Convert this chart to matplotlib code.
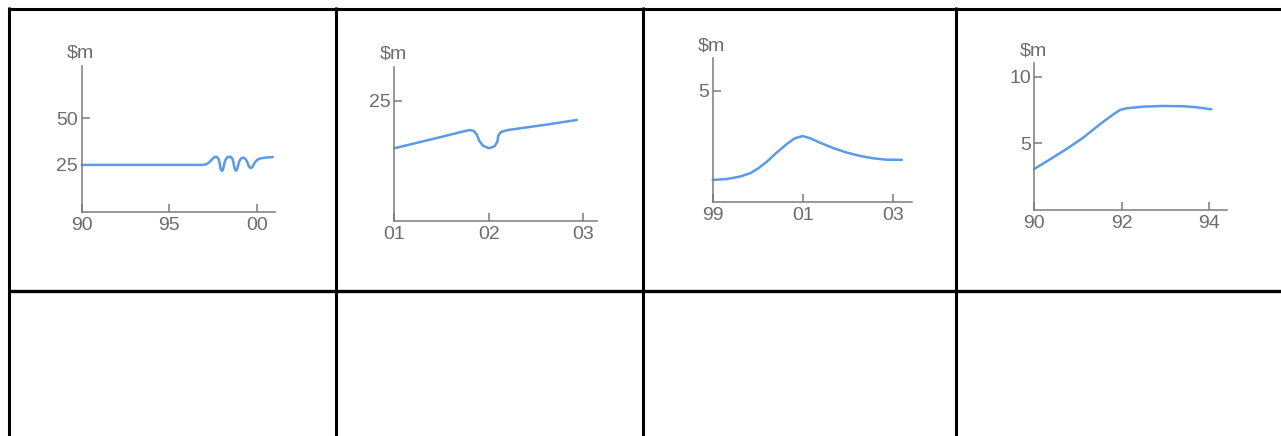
import matplotlib
matplotlib.use("Agg")
import matplotlib.pyplot as plt
from matplotlib.lines import Line2D

# ---------------- data ----------------
c1_years = [1990.0, 1993.0, 1996.9, 1997.1, 1997.25, 1997.4, 1997.52, 1997.62, 1997.72,
            1997.8, 1997.86, 1997.9, 1997.94, 1998.0, 1998.06, 1998.1, 1998.15, 1998.22,
            1998.32, 1998.42, 1998.52, 1998.6, 1998.66, 1998.7, 1998.75, 1998.81, 1998.87,
            1998.92, 1998.98, 1999.06, 1999.16, 1999.25, 1999.34, 1999.42, 1999.5, 1999.57,
            1999.65, 1999.73, 1999.82, 1999.92, 2000.05, 2000.2, 2000.5, 2000.9]
c1_values = [25.0, 25.0, 25.0, 25.3, 26.2, 27.6, 28.8, 29.3, 29.2,
             28.3, 26.5, 24.3, 22.6, 21.8, 22.4, 24.0, 26.2, 28.0,
             29.1, 29.4, 29.2, 28.2, 26.3, 24.2, 22.5, 21.9, 22.6,
             24.5, 26.6, 28.1, 28.8, 28.8, 28.2, 27.0, 25.2, 23.8,
             23.3, 23.8, 25.3, 26.8, 27.9, 28.5, 28.9, 29.2]
c1_xticks = [1990, 1995, 2000]
c1_xlabels = ["90", "95", "00"]
c1_yticks = [25, 50]
c1_xlim = (1990, 2001.03)
c1_ylim = (0, 78)

c2_years = [2001.0, 2001.4, 2001.75, 2001.8, 2001.84, 2001.87, 2001.9, 2001.94, 2002.0,
            2002.06, 2002.09, 2002.1, 2002.13, 2002.2, 2002.6, 2002.93]
c2_values = [15.1, 17.0, 18.7, 18.9, 18.7, 18.0, 16.6, 15.6, 15.1,
             15.5, 16.5, 17.8, 18.5, 18.9, 20.0, 21.0]
c2_xticks = [2001, 2002, 2003]
c2_xlabels = ["01", "02", "03"]
c2_yticks = [25]
c2_xlim = (2001, 2003.14)
c2_ylim = (0, 32.1)

c3_years = [1999.0, 1999.31, 1999.6, 1999.83, 2000.01, 2000.2, 2000.42, 2000.64, 2000.82,
            2000.99, 2001.16, 2001.38, 2001.67, 2001.97, 2002.26, 2002.56, 2002.85, 2003.19]
c3_values = [0.99, 1.03, 1.14, 1.29, 1.51, 1.81, 2.22, 2.60, 2.86,
             2.96, 2.86, 2.66, 2.42, 2.22, 2.07, 1.96, 1.90, 1.89]
c3_xticks = [1999, 2001, 2003]
c3_xlabels = ["99", "01", "03"]
c3_yticks = [5]
c3_xlim = (1999, 2003.41)
c3_ylim = (0, 6.45)

c4_years = [1990.0, 1990.36, 1990.74, 1991.12, 1991.5, 1991.81, 1991.96, 1992.11,
            1992.5, 1992.95, 1993.41, 1993.72, 1994.05]
c4_values = [3.08, 3.80, 4.58, 5.43, 6.43, 7.18, 7.50, 7.63,
             7.75, 7.80, 7.78, 7.70, 7.55]
c4_xticks = [1990, 1992, 1994]
c4_xlabels = ["90", "92", "94"]
c4_yticks = [5, 10]
c4_xlim = (1990, 1994.40)
c4_ylim = (0, 11.0)

unit_label = "$m"

# ---------------- style ----------------
W, H = 1281, 436
LINE_BLUE = "#5a9be8"
AXIS_GRAY = "#7a7a7a"
TEXT_GRAY = "#6c6c6c"
FS = 14
plt.rcParams["font.family"] = ["Liberation Sans", "DejaVu Sans"]

fig = plt.figure(figsize=(W / 100, H / 100), dpi=100)
fig.patch.set_facecolor("white")


def px_rect(left, top, right, bottom):
    return [left / W, 1 - bottom / H, (right - left) / W, (bottom - top) / H]


# table grid
def hline(y, x0, x1, lw=2.2):
    fig.add_artist(Line2D([x0 / W, x1 / W], [1 - y / H, 1 - y / H],
                          transform=fig.transFigure, color="black", lw=lw,
                          solid_capstyle="butt"))


def vline(x, y0, y1, lw=2.2):
    fig.add_artist(Line2D([x / W, x / W], [1 - y0 / H, 1 - y1 / H],
                          transform=fig.transFigure, color="black", lw=lw,
                          solid_capstyle="butt"))


hline(8.7, 7.5, W)
hline(291, 7.5, W, lw=2.4)
for xv in [8.7, 336, 643, 955.8]:
    vline(xv, 7.5, H)

panels = [
    (px_rect(81.7, 65.7, 275, 211.7), c1_years, c1_values, c1_xticks, c1_xlabels, c1_yticks, c1_xlim, c1_ylim),
    (px_rect(394.3, 66.7, 596.7, 220.7), c2_years, c2_values, c2_xticks, c2_xlabels, c2_yticks, c2_xlim, c2_ylim),
    (px_rect(712.7, 58.3, 911.7, 202), c3_years, c3_values, c3_xticks, c3_xlabels, c3_yticks, c3_xlim, c3_ylim),
    (px_rect(1034.3, 63.3, 1226.7, 210), c4_years, c4_values, c4_xticks, c4_xlabels, c4_yticks, c4_xlim, c4_ylim),
]

for rect, xs, ys, xt, xl, yt, xlim, ylim in panels:
    ax = fig.add_axes(rect)
    ax.set_facecolor("none")
    ax.plot(xs, ys, color=LINE_BLUE, lw=1.8, solid_capstyle="round",
            solid_joinstyle="round", clip_on=False)
    ax.set_xlim(*xlim)
    ax.set_ylim(*ylim)
    for s in ["top", "right"]:
        ax.spines[s].set_visible(False)
    for s in ["left", "bottom"]:
        ax.spines[s].set_color(AXIS_GRAY)
        ax.spines[s].set_linewidth(1.1)
    ax.set_xticks(xt)
    ax.set_xticklabels(xl)
    ax.set_yticks(yt)
    ax.set_yticklabels([str(v) for v in yt])
    ax.tick_params(axis="both", direction="in", length=5.5, width=1.1,
                   color=AXIS_GRAY, labelcolor=TEXT_GRAY, labelsize=FS)
    ax.tick_params(axis="x", pad=3.5)
    ax.tick_params(axis="y", pad=2.5)
    ax.annotate(unit_label, xy=(0, 1), xycoords="axes fraction",
                xytext=(-1, 3.0), textcoords="offset points",
                ha="center", va="bottom", fontsize=FS, color=TEXT_GRAY)

fig.savefig("out.png", dpi=100, facecolor="white")
